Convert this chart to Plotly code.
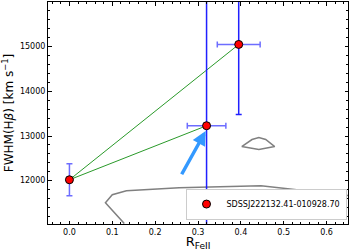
import plotly.graph_objects as go

# Data
r_fe = [0.0, 0.32, 0.395]
fwhm = [12020, 13230, 15050]
r_fe_err = [0.0, 0.045, 0.05]
fwhm_err_plus = [360, 5000, 1550]
fwhm_err_minus = [360, 5000, 1570]
label = "SDSSJ222132.41-010928.70"

# green connecting lines (from first point to later epochs)
link_x = [[0.0, 0.395], [0.0, 0.32]]
link_y = [[12020, 15050], [12020, 13230]]

# arrow (tail -> head)
arrow_tail = (0.26, 12110)
arrow_head = (0.318, 13110)

# contours
cont1_x = [0.128, 0.084, 0.100, 0.133, 0.256, 0.447, 0.66]
cont1_y = [11040, 11506, 11685, 11775, 11843, 11888, 11660]
cont2_x = [0.402, 0.426, 0.442, 0.458, 0.479, 0.442, 0.402]
cont2_y = [12764, 12921, 12966, 12921, 12764, 12697, 12764]

fig = go.Figure()

gray = "#808080"
fig.add_trace(go.Scatter(x=cont1_x, y=cont1_y, mode="lines",
                         line=dict(color=gray, width=1.5), showlegend=False, hoverinfo="skip"))
fig.add_trace(go.Scatter(x=cont2_x, y=cont2_y, mode="lines",
                         line=dict(color=gray, width=1.5), showlegend=False, hoverinfo="skip"))

for lx, ly in zip(link_x, link_y):
    fig.add_trace(go.Scatter(x=lx, y=ly, mode="lines",
                             line=dict(color="#2a9a2a", width=1), showlegend=False, hoverinfo="skip"))

light = "rgba(60,60,255,0.75)"
dark = "rgba(20,20,255,0.95)"
for i in range(len(r_fe)):
    ycol = light if i == 0 else dark
    fig.add_trace(go.Scatter(
        x=[r_fe[i]], y=[fwhm[i]], mode="markers",
        marker=dict(size=1, color="rgba(0,0,0,0)"),
        error_y=dict(type="data", symmetric=False, array=[fwhm_err_plus[i]],
                     arrayminus=[fwhm_err_minus[i]], color=ycol, thickness=1.5, width=3),
        showlegend=False, hoverinfo="skip"))
    if r_fe_err[i] > 0:
        fig.add_trace(go.Scatter(
            x=[r_fe[i]], y=[fwhm[i]], mode="markers",
            marker=dict(size=1, color="rgba(0,0,0,0)"),
            error_x=dict(type="data", array=[r_fe_err[i]], color=light, thickness=1.5, width=3),
            showlegend=False, hoverinfo="skip"))

fig.add_trace(go.Scatter(
    x=r_fe, y=fwhm, mode="markers", name=label,
    marker=dict(size=8, color="red", line=dict(color="black", width=1))))

fig.add_annotation(x=arrow_head[0], y=arrow_head[1], ax=arrow_tail[0], ay=arrow_tail[1],
                   xref="x", yref="y", axref="x", ayref="y", text="",
                   showarrow=True, arrowhead=2, arrowsize=0.8, arrowwidth=3.5,
                   arrowcolor="#3399ff")

tickfont = dict(family="DejaVu Sans", size=8, color="black")
fig.update_layout(
    width=349, height=251,
    margin=dict(l=48, r=1, t=2, b=27, autoexpand=False),
    paper_bgcolor="white", plot_bgcolor="white",
    font=dict(family="DejaVu Sans", color="black"),
    xaxis=dict(range=[-0.05, 0.65], dtick=0.1, tickformat=".1f", automargin=False,
               ticks="inside", ticklen=3.5, tickwidth=1, tickcolor="black",
               showline=True, linecolor="black", linewidth=1, mirror="ticks",
               showgrid=False, zeroline=False, tickfont=tickfont,
               minor=dict(ticks="inside", dtick=0.02, ticklen=2, tickcolor="black"),
               title=dict(text="R<sub>FeII</sub>", font=dict(size=13), standoff=2)),
    yaxis=dict(range=[11030, 16000], dtick=1000, tickformat="d", automargin=False,
               ticks="inside", ticklen=3.5, tickwidth=1, tickcolor="black",
               showline=True, linecolor="black", linewidth=1, mirror="ticks",
               showgrid=False, zeroline=False, tickfont=tickfont,
               minor=dict(ticks="inside", dtick=200, ticklen=2, tickcolor="black"),
               title=dict(text="FWHM(H<i>β</i>) [km s<sup>−1</sup>]", font=dict(size=12), standoff=4)),
    legend=dict(x=0.995, y=0.02, xanchor="right", yanchor="bottom",
                bgcolor="white", bordercolor="#cccccc", borderwidth=1,
                font=dict(size=8, family="DejaVu Sans"), itemwidth=30,
                tracegroupgap=0),
    showlegend=True,
)

fig.write_html("out.html", config={"displayModeBar": False},
               post_script="document.body.style.margin='0';document.body.style.overflow='hidden';")
